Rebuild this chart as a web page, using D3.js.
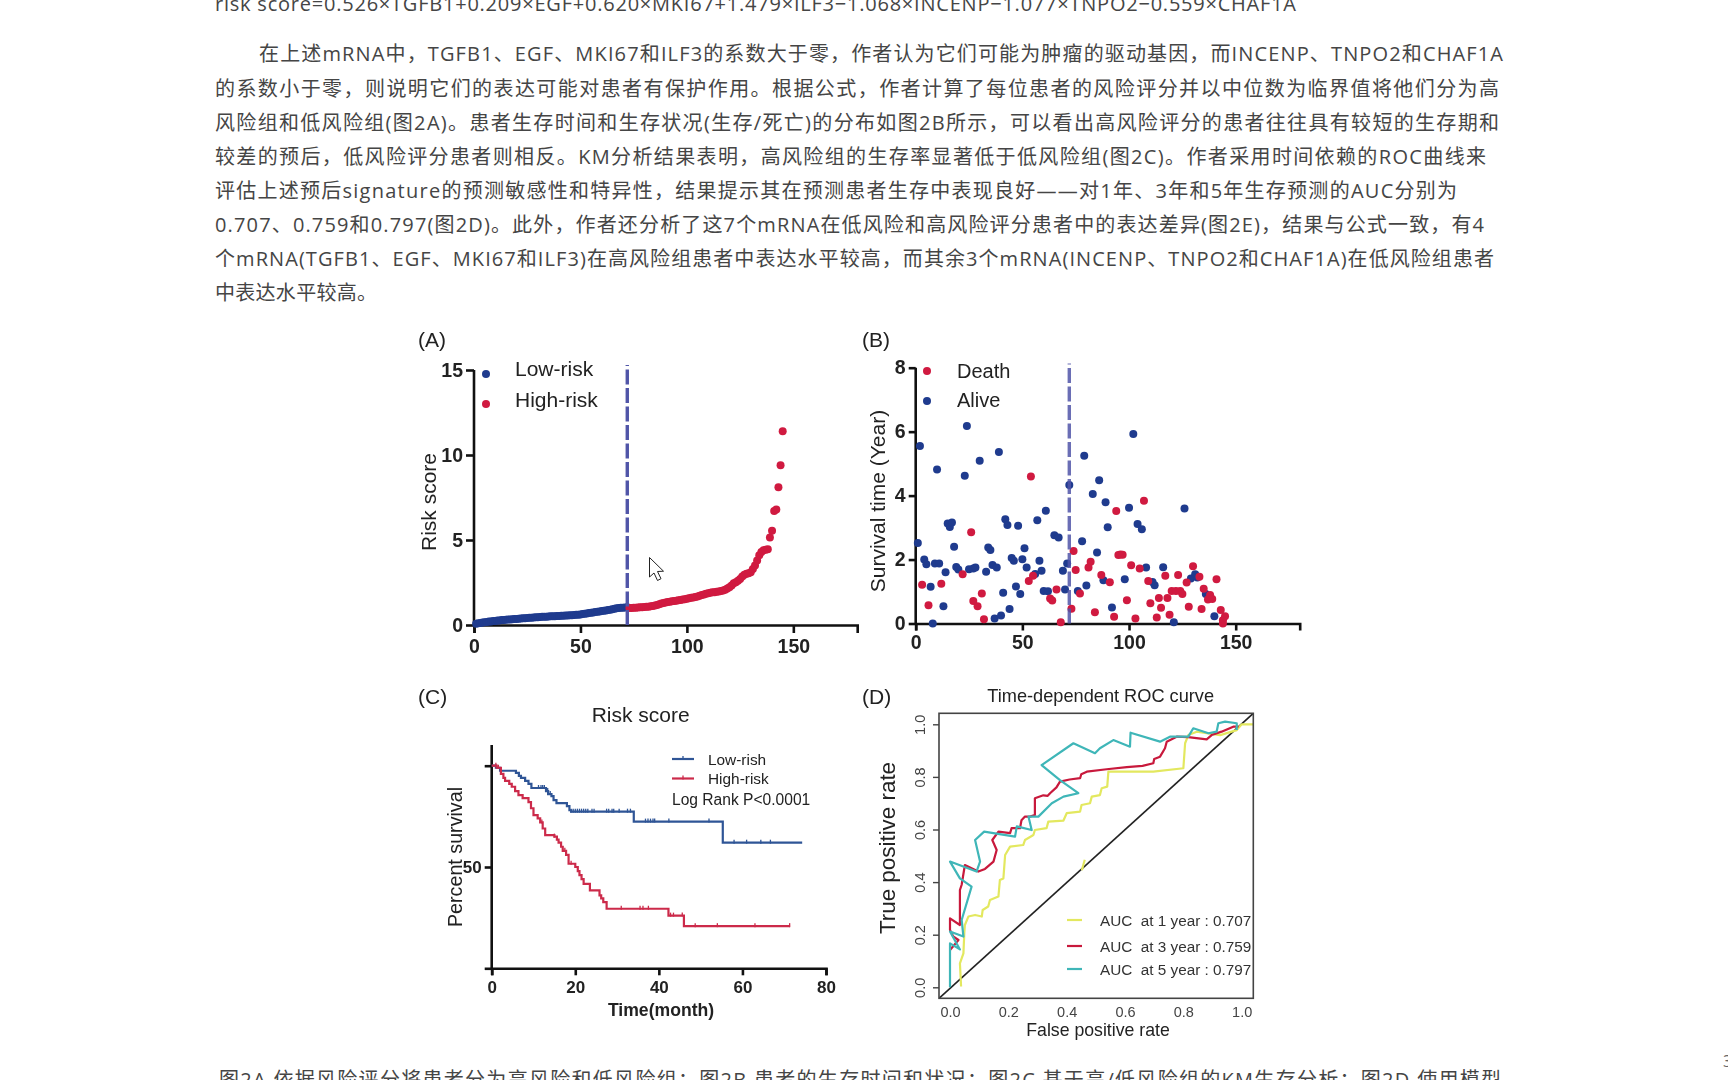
<!DOCTYPE html>
<html lang="zh"><head><meta charset="utf-8">
<script src="https://cdnjs.cloudflare.com/ajax/libs/d3/7.8.5/d3.min.js"></script>
<style>
html,body{margin:0;padding:0;background:#fff;overflow:hidden}
svg{display:block}
.body{font-family:"Open Sans","Noto Sans CJK SC",sans-serif;font-size:20px;fill:#454545}
.fig text{font-family:"Liberation Sans",Arial,sans-serif;fill:#222}
.fig{filter:blur(.45px)}
</style></head><body>
<svg id="c" width="1728" height="1080"></svg>
<script>
// ---------- DATA ----------
const paragraphLines = [
 ["risk score=0.526×TGFB1+0.209×EGF+0.620×MKI67+1.479×ILF3−1.068×INCENP−1.077×TNPO2−0.559×CHAF1A",215,1296,11],
 ["在上述mRNA中，TGFB1、EGF、MKI67和ILF3的系数大于零，作者认为它们可能为肿瘤的驱动基因，而INCENP、TNPO2和CHAF1A",259,1503,61],
 ["的系数小于零，则说明它们的表达可能对患者有保护作用。根据公式，作者计算了每位患者的风险评分并以中位数为临界值将他们分为高",215,1499,96],
 ["风险组和低风险组(图2A)。患者生存时间和生存状况(生存/死亡)的分布如图2B所示，可以看出高风险评分的患者往往具有较短的生存期和",215,1499,130],
 ["较差的预后，低风险评分患者则相反。KM分析结果表明，高风险组的生存率显著低于低风险组(图2C)。作者采用时间依赖的ROC曲线来",215,1486,164],
 ["评估上述预后signature的预测敏感性和特异性，结果提示其在预测患者生存中表现良好——对1年、3年和5年生存预测的AUC分别为",215,1457,198],
 ["0.707、0.759和0.797(图2D)。此外，作者还分析了这7个mRNA在低风险和高风险评分患者中的表达差异(图2E)，结果与公式一致，有4",215,1484,232],
 ["个mRNA(TGFB1、EGF、MKI67和ILF3)在高风险组患者中表达水平较高，而其余3个mRNA(INCENP、TNPO2和CHAF1A)在低风险组患者",215,1494,266],
 ["中表达水平较高。",215,377,300],
 ["图2A 依据风险评分将患者分为高风险和低风险组；图2B 患者的生存时间和状况；图2C 基于高/低风险组的KM生存分析；图2D 使用模型",219,1501,1087]
];

const riskLow = [.08,.1,.12,.14,.16,.18,.2,.21,.23,.24,.26,.27,.29,.3,.31,.32,.33,.34,.35,.36,.37,.38,.39,.4,.41,.42,.43,.44,.45,.46,.47,.48,.49,.49,.5,.51,.51,.52,.53,.53,.54,.55,.56,.56,.57,.58,.59,.6,.61,.62,.64,.66,.68,.7,.72,.74,.76,.78,.8,.82,.84,.86,.88,.9,.93,.96,.98,1,1.01,1.02,1.03,1.04];
const riskHigh = [1,1,1.01,1.02,1.03,1.04,1.05,1.06,1.07,1.08,1.1,1.12,1.15,1.18,1.22,1.27,1.3,1.33,1.35,1.37,1.39,1.41,1.43,1.45,1.47,1.5,1.52,1.54,1.57,1.6,1.62,1.65,1.68,1.72,1.76,1.8,1.84,1.87,1.9,1.92,1.93,1.95,1.97,2,2.03,2.08,2.14,2.22,2.32,2.45,2.52,2.6,2.7,2.85,2.95,3.02,3.05,3.1,3.3,3.5,3.8,4.1,4.3,4.4,4.43,4.45,5.15,5.55,6.7,6.8,8.1,9.4,11.4];

const alive = [[1,2.52],[2,5.55],[4,2],[5,1.85],[7,1.15],[8,0],[9,1.88],[10,4.82],[11,1.88],[13,.54],[14,1.6],[15,3.13],[16,3.02],[17,3.16],[18,2.4],[19,1.77],[20,1.69],[23,4.62],[24,6.18],[25,1.7],[27,1.72],[28,1.75],[30,5.09],[33,1.62],[34,2.38],[35,2.3],[36,1.83],[37,.16],[38,1.75],[39,5.36],[40,.25],[41,.96],[42,3.26],[43,3.08],[44,.45],[45,2.05],[46,1.96],[47,1.16],[48,3.06],[49,.92],[50,2.01],[51,2.35],[52,1.75],[56,1.55],[57,3.23],[58,1.96],[59,1.65],[60,1.02],[61,3.53],[62,1.01],[65,2.76],[67,2.69],[69,1.65],[70,1.06],[71,1.88],[72,4.33],[76,1.02],[78,2.57],[79,5.25],[80,1.19],[83,4.05],[85,2.22],[86,4.48],[88,1.35],[89,3.79],[90,3.01],[92,.5],[98,1.38],[100,3.62],[102,5.93],[104,3.11],[106,2.95],[108,1.75],[111,1.3],[112,1.2],[116,1.76],[121,.04],[126,3.6],[129,1.41],[131,1.54],[132,1.44],[136,.92],[140,.23]];
const death = [[3,1.21],[6,.57],[12,1.24],[22,1.54],[26,2.85],[27,.7],[29,.54],[31,.94],[32,.13],[53,1.33],[54,4.6],[55,1.49],[63,.78],[64,.72],[66,1.06],[68,.04],[73,.46],[74,2.27],[75,1.67],[77,.94],[81,1.75],[82,1.93],[84,.35],[87,1.52],[91,1.29],[93,.21],[94,3.52],[95,2.14],[96,2.16],[97,2.15],[99,.73],[101,1.82],[103,.16],[105,1.72],[107,3.84],[109,1.33],[110,.63],[113,.19],[114,.8],[115,.49],[117,1.49],[118,.8],[119,.27],[120,1.02],[122,1.02],[123,1.52],[124,1.02],[125,.92],[127,1.28],[128,.52],[130,1.79],[133,1.46],[134,.45],[135,1.09],[137,.75],[138,.89],[139,.77],[141,1.38],[143,.42],[144,.1],[144,0],[145,.23]];

const kmLow = [[0,100],[1,99],[2,97.5],[5.8,96.5],[6.5,95],[7,94],[8,92.5],[8.8,91],[9.5,89],[13,87.5],[13.5,86],[14.3,85],[14.8,83],[15.5,81.5],[18,80],[18.6,78],[19,77.3],[34,72.4],[55.3,62],[74.3,62]];
const kmHigh = [[0,100],[1.2,99],[2.2,96],[2.8,94],[3.2,92.5],[4.2,91],[4.8,89.6],[5.6,87.5],[6.4,85.5],[7.4,84],[8.8,82],[9.4,79],[10,75.6],[11,74],[11.6,72],[12.2,69],[12.8,65.7],[15,65],[15.6,63.5],[16,62],[16.6,60],[17,58],[17.8,56],[18.4,51.6],[20,50],[20.6,48],[21,46],[21.5,44],[22,41.7],[23.5,38.5],[25.8,36],[26.2,34.5],[26.7,32.7],[27.5,29.4],[42.3,26],[46,20.8],[71.4,20.8]];
const censorLow = [11.2,11.8,12.2,12.6,13,13.4,14,19,19.5,20,20.5,21,21.5,22,22.5,23,24,24.5,27.5,28,28.8,29.2,30.5,32.5,33.2,36.8,37.4,38,38.6,39,42.4,52,58,61,64.4,66.7];
const censorHigh = [1,1.6,12,15,17.5,19,31,35.5,36.2,37.5,42.8,43.5,45.6,48.7,54,63,71.3];

const rocX1 = [.038,.034,.046,.049,.051,.063,.086,.109,.112,.131,.137,.166,.171,.183,.189,.206,.251,.257,.286,.291,.331,.337,.389,.4,.446,.451,.48,.486,.514,.52,.539,.543,.697,.8,.806,.817,.846,.926,.983,1,1.04];
const rocY1 = [.003,.091,.129,.205,.237,.269,.275,.269,.294,.307,.332,.345,.408,.414,.503,.535,.541,.56,.579,.598,.605,.63,.634,.662,.668,.693,.7,.725,.731,.757,.763,.82,.82,.833,.928,.959,.972,.959,.978,1.0,1];
const rocX3 = [0,.029,.011,0,0,.034,.034,.04,.051,.097,.12,.149,.16,.145,.166,.206,.211,.24,.245,.257,.274,.291,.291,.32,.335,.343,.365,.377,.41,.446,.45,.469,.537,.606,.66,.697,.70,.72,.737,.743,.777,.817,.88,.897,.931,.971,.989];
const rocY3 = [.142,.18,.193,.218,.262,.237,.37,.39,.465,.44,.45,.478,.522,.56,.592,.586,.605,.605,.635,.649,.649,.655,.719,.73,.728,.738,.76,.782,.79,.795,.81,.82,.829,.837,.842,.852,.868,.877,.909,.934,.953,.951,.943,.959,.972,.991,.991];
const rocX5 = [0,0,.034,0,.046,.04,.074,.034,0,.091,.103,.086,.117,.223,.229,.28,.269,.303,.349,.389,.44,.377,.314,.423,.497,.514,.56,.617,.619,.72,.754,.817,.834,.886,.914,.92,.943,.983,.983];
const rocY5 = [0,.167,.144,.212,.193,.256,.383,.414,.478,.44,.478,.56,.592,.573,.612,.598,.649,.649,.7,.725,.738,.788,.845,.928,.89,.909,.94,.915,.968,.934,.953,.953,.985,.966,.972,1.004,1.01,1.004,.978];
const rocMarkX = [.452,.462], rocMarkY = [.445,.485];

const xTicksAB = [0,50,100,150], yTicksA = [0,5,10,15], yTicksB = [0,2,4,6,8];
const xTicksC = [0,20,40,60,80], yTicksC = [0,50,100], rocTicks = [0,.2,.4,.6,.8,1];
const cutoff = 72;

// ---------- STYLE ----------
const BLUE="#1f3b8e", RED="#d01a40", DASH="#5055a8", KMB="#2f5596", KMR="#cc2a4a", YEL="#e3e85f", TEAL="#3fb6b8", RRED="#c8193c";
const svg=d3.select("#c");
const txt=svg.append("g");
txt.selectAll("text").data(paragraphLines).join("text").attr("class","body")
  .attr("x",d=>d[1]).attr("y",d=>d[3]).attr("textLength",d=>d[2]-d[1]).attr("lengthAdjust","spacing").text(d=>d[0]);
txt.append("text").attr("x",1723).attr("y",1067).attr("font-family","Open Sans").attr("font-size",16).attr("fill","#666").text("3");

const fig=svg.append("g").attr("class","fig");
function label(s,x,y,size,opt={}){
  const t=fig.append("text").attr("x",x).attr("y",y).attr("font-size",size).attr("dominant-baseline","middle").text(s);
  if(opt.anchor)t.attr("text-anchor",opt.anchor);
  if(opt.bold)t.attr("font-weight","700");
  if(opt.rot)t.attr("transform",`rotate(-90 ${x} ${y})`);
  if(opt.fill)t.style("fill",opt.fill);
  return t;
}
function axes(x,y,xt,yt,size,yTop,opts={}){
  const gx=fig.append("g").attr("transform",`translate(0,${y.range()[0]})`)
    .call(d3.axisBottom(x).tickValues(xt).tickSize(opts.tick||8).tickPadding(opts.pad||6).tickFormat(d3.format("d")));
  const gy=fig.append("g").attr("transform",`translate(${x.range()[0]},0)`)
    .call(d3.axisLeft(y).tickValues(yt).tickSize(opts.tick||8).tickPadding(opts.ypad||3).tickFormat(opts.noY||d3.format("d")));
  [gx,gy].forEach(g=>{g.selectAll("path").attr("stroke","#111").attr("stroke-width",2.6);
    g.selectAll("line").attr("stroke","#111").attr("stroke-width",2.6);
    g.selectAll("text").attr("font-size",size).attr("font-weight","700").attr("font-family",null);
    g.attr("font-family",null);});
  gy.select("path").attr("d",`M0,${y.range()[0]}V${yTop}`);
  return [gx,gy];
}

// ---------- PANEL A ----------
const xA=d3.scaleLinear([0,180],[474,857.2]), yA=d3.scaleLinear([0,15],[625,370]);
axes(xA,yA,xTicksAB,yTicksA,19.5,370);
fig.append("g").selectAll("circle").data(riskLow).join("circle").attr("cx",(d,i)=>xA(i+1)).attr("cy",d=>yA(d)).attr("r",4).attr("fill",BLUE);
fig.append("g").selectAll("circle").data(riskHigh).join("circle").attr("cx",(d,i)=>xA(i+73)).attr("cy",d=>yA(d)).attr("r",4).attr("fill",RED);
fig.append("line").attr("x1",xA(cutoff)).attr("x2",xA(cutoff)).attr("y1",yA(0)).attr("y2",yA(15.3)).attr("stroke",DASH).attr("stroke-width",3.4).attr("stroke-dasharray","15 3.5");
fig.append("circle").attr("cx",486).attr("cy",374).attr("r",4).attr("fill",BLUE);
fig.append("circle").attr("cx",486).attr("cy",404).attr("r",4).attr("fill",RED);
label("Low-risk",515,370,21); label("High-risk",515,401,21);
label("Risk score",430,502,21,{anchor:"middle",rot:1});
label("(A)",418,341,21);

// cursor
fig.append("path").attr("d","M649.5,557.5V577l4.5,-4l3.5,7.5l3.5,-1.8l-3.5,-7.2l6,-.3Z").attr("fill","#fff").attr("stroke","#222").attr("stroke-width",1);

// ---------- PANEL B ----------
const xB=d3.scaleLinear([0,180],[915.7,1299.7]), yB=d3.scaleLinear([0,8],[623.5,367.7]);
axes(xB,yB,xTicksAB,yTicksB,19.5,367.7,{tick:7,ypad:3,pad:5});
fig.append("g").selectAll("circle").data(alive).join("circle").attr("cx",d=>xB(d[0])).attr("cy",d=>yB(d[1])).attr("r",4).attr("fill",BLUE);
fig.append("g").selectAll("circle").data(death).join("circle").attr("cx",d=>xB(d[0])).attr("cy",d=>yB(d[1])).attr("r",4).attr("fill",RED);
fig.append("line").attr("x1",xB(cutoff)).attr("x2",xB(cutoff)).attr("y1",yB(0)).attr("y2",yB(8.13)).attr("stroke",DASH).attr("stroke-width",3.4).attr("stroke-opacity",.85).attr("stroke-dasharray","15 3.5");
fig.append("circle").attr("cx",927).attr("cy",371).attr("r",4).attr("fill",RED);
fig.append("circle").attr("cx",927).attr("cy",401).attr("r",4).attr("fill",BLUE);
label("Death",957,373,20); label("Alive",957,402,20);
label("Survival time (Year)",879,501,21,{anchor:"middle",rot:1});
label("(B)",862,341,21);

// ---------- PANEL C ----------
const xC=d3.scaleLinear([0,80],[491.7,826]), yC=d3.scaleLinear([0,100],[968.3,765.7]);
axes(xC,yC,xTicksC,yTicksC,17,745,{tick:7,pad:6,noY:d=>d===50?"50":""});
const kmLine=d3.line().x(d=>xC(d[0])).y(d=>yC(d[1])).curve(d3.curveStepAfter);
const stepAt=(s,t)=>s[Math.max(0,d3.bisectRight(s.map(p=>p[0]),t)-1)][1];
function km(s,cen,col){
  fig.append("path").attr("d",kmLine(s)).attr("fill","none").attr("stroke",col).attr("stroke-width",2.2);
  fig.append("g").selectAll("line").data(cen).join("line")
    .attr("x1",d=>xC(d)).attr("x2",d=>xC(d)).attr("y1",d=>yC(stepAt(s,d))-3).attr("y2",d=>yC(stepAt(s,d))+1).attr("stroke",col).attr("stroke-width",1.3);
}
km(kmLow,censorLow,KMB); km(kmHigh,censorHigh,KMR);
[[759,KMB],[778.5,KMR]].forEach(([y,c])=>{
  fig.append("line").attr("x1",672).attr("x2",694).attr("y1",y).attr("y2",y).attr("stroke",c).attr("stroke-width",2.2);
  fig.append("line").attr("x1",683).attr("x2",683).attr("y1",y-3).attr("y2",y+1).attr("stroke",c).attr("stroke-width",1.3);
});
label("Low-rish",708,761,15.4); label("High-risk",708,780,15.4); label("Log Rank P<0.0001",672,801,15.6);
label("Risk score",640.7,716,21,{anchor:"middle"});
label("Percent survival",457,857,19.7,{anchor:"middle",rot:1});
label("Time(month)",661,1011,17.6,{anchor:"middle",bold:1});
label("(C)",418,698,21);

// ---------- PANEL D ----------
const xD=d3.scaleLinear([0,1],[950,1241.7]), yD=d3.scaleLinear([0,1],[987.3,724.3]);
const L={l:939,r:1253.3,t:713.3,b:998.3};
fig.append("clipPath").attr("id","rocClip").append("rect").attr("x",L.l).attr("y",L.t).attr("width",L.r-L.l).attr("height",L.b-L.t);
const roc=fig.append("g").attr("clip-path","url(#rocClip)");
roc.append("line").attr("x1",L.l).attr("y1",L.b).attr("x2",L.r).attr("y2",L.t).attr("stroke","#222").attr("stroke-width",1.6);
const rocLine=(xs,ys)=>d3.line().x((d,i)=>xD(xs[i])).y((d,i)=>yD(ys[i]))(xs);
[[rocX1,rocY1,YEL],[rocMarkX,rocMarkY,YEL],[rocX3,rocY3,RRED],[rocX5,rocY5,TEAL]].forEach(([a,b,c])=>
  roc.append("path").attr("d",rocLine(a,b)).attr("fill","none").attr("stroke",c).attr("stroke-width",2.2).attr("stroke-linejoin","round"));
fig.append("rect").attr("x",L.l).attr("y",L.t).attr("width",L.r-L.l).attr("height",L.b-L.t).attr("fill","none").attr("stroke","#444").attr("stroke-width",1.6);
const gxD=fig.append("g").attr("transform",`translate(0,${L.b})`).call(d3.axisBottom(xD).tickValues(rocTicks).tickSize(0).tickPadding(8).tickFormat(d3.format(".1f")));
const gyD=fig.append("g").attr("transform",`translate(${L.l},0)`).call(d3.axisLeft(yD).tickValues(rocTicks).tickSize(6).tickPadding(7).tickFormat(d3.format(".1f")));
[gxD,gyD].forEach(g=>{g.attr("font-family",null);g.select(".domain").remove();
  g.selectAll("line").attr("stroke","#444").attr("stroke-width",1.4);
  g.selectAll("text").attr("font-size",14.5).style("fill","#444");});
gyD.selectAll("text").attr("transform","rotate(-90)").attr("text-anchor","middle").attr("x",0).attr("y",-18).attr("dy",0).attr("dominant-baseline","middle");
[[921,YEL,"AUC  at 1 year : 0.707"],[947,RRED,"AUC  at 3 year : 0.759"],[970,TEAL,"AUC  at 5 year : 0.797"]].forEach(([y,c,s])=>{
  fig.append("line").attr("x1",1067).attr("x2",1082).attr("y1",y-1).attr("y2",y-1).attr("stroke",c).attr("stroke-width",2.2);
  const t=label(s,1100,y+1,15.3,{fill:"#333"}); t.style("white-space","pre");
});
label("Time-dependent ROC curve",1100.7,697,18.2,{anchor:"middle"});
label("True positive rate",889,848,22.4,{anchor:"middle",rot:1});
label("False positive rate",1098,1031,17.7,{anchor:"middle"});
label("(D)",862,698,21);
</script>
</body></html>
